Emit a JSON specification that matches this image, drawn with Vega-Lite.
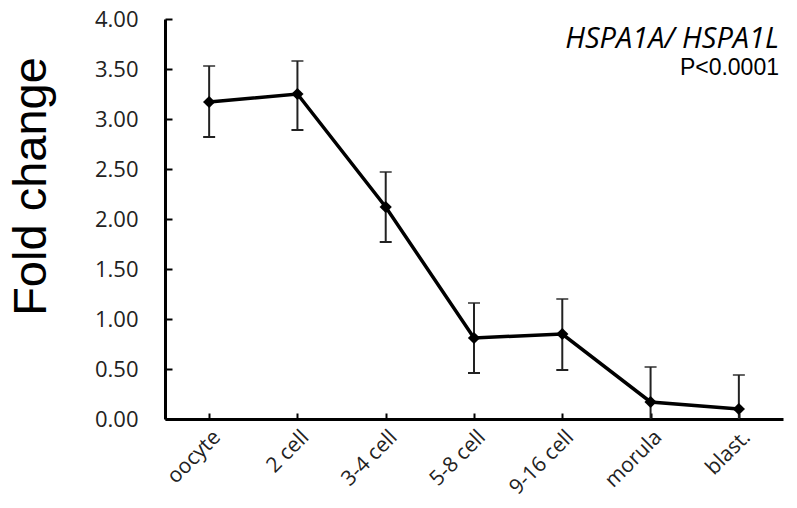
{
  "$schema": "https://vega.github.io/schema/vega-lite/v6.json",
  "autosize": {"type": "none"},
  "width": 618,
  "height": 400,
  "padding": {"left": 165, "top": 19, "right": 14, "bottom": 89},
  "background": "white",
  "title": {
    "text": "HSPA1A/ HSPA1L",
    "subtitle": "P<0.0001",
    "anchor": "end",
    "orient": "top",
    "offset": -72,
    "font": "Open Sans",
    "fontStyle": "italic",
    "fontWeight": "normal",
    "fontSize": 29,
    "color": "black",
    "subtitleFont": "Liberation Sans",
    "subtitleFontSize": 23,
    "subtitleColor": "black",
    "subtitlePadding": 3,
    "dx": -4
  },
  "data": {
    "values": [
      {"stage": "oocyte", "fold": 3.17, "lo": 2.82, "hi": 3.53},
      {"stage": "2 cell", "fold": 3.25, "lo": 2.89, "hi": 3.58},
      {"stage": "3-4 cell", "fold": 2.12, "lo": 1.77, "hi": 2.47},
      {"stage": "5-8 cell", "fold": 0.81, "lo": 0.46, "hi": 1.16},
      {"stage": "9-16 cell", "fold": 0.85, "lo": 0.49, "hi": 1.2},
      {"stage": "morula", "fold": 0.17, "lo": 0.0, "hi": 0.52},
      {"stage": "blast.", "fold": 0.1, "lo": 0.0, "hi": 0.44}
    ]
  },
  "encoding": {
    "x": {
      "field": "stage",
      "type": "nominal",
      "sort": null,
      "scale": {"type": "point", "padding": 0.5},
      "axis": {
        "title": null,
        "domainColor": "black",
        "domainWidth": 3,
        "tickColor": "black",
        "tickWidth": 2,
        "tickSize": -6,
        "labelAngle": -45,
        "labelAlign": "right",
        "labelBaseline": "top",
        "labelPadding": 13,
        "labelFont": "Open Sans",
        "labelFontSize": 21,
        "labelColor": "#222"
      }
    }
  },
  "layer": [
    {
      "mark": {"type": "rule", "color": "#222", "strokeWidth": 2},
      "encoding": {
        "y": {"field": "lo", "type": "quantitative"},
        "y2": {"field": "hi"}
      }
    },
    {
      "mark": {"type": "tick", "color": "#222", "thickness": 2, "size": 12, "orient": "horizontal"},
      "encoding": {"y": {"field": "hi", "type": "quantitative"}}
    },
    {
      "mark": {"type": "tick", "color": "#222", "thickness": 2, "size": 12, "orient": "horizontal"},
      "encoding": {"y": {"field": "lo", "type": "quantitative"}, "opacity": {"condition": {"test": "datum.lo > 0", "value": 1}, "value": 0}}
    },
    {
      "mark": {"type": "line", "color": "black", "strokeWidth": 3.5},
      "encoding": {
        "y": {
          "field": "fold",
          "type": "quantitative",
          "scale": {"domain": [0, 4]},
          "axis": {
            "title": "Fold change",
            "titleFont": "Liberation Sans",
            "titleFontSize": 47,
            "titleFontWeight": "normal",
            "titleColor": "black",
            "titleAngle": -90,
            "titleX": -134,
            "titleY": 167,
            "titleAlign": "center",
            "titleBaseline": "middle",
            "values": [0, 0.5, 1, 1.5, 2, 2.5, 3, 3.5, 4],
            "format": ".2f",
            "grid": false,
            "domainColor": "black",
            "domainWidth": 3,
            "tickColor": "black",
            "tickWidth": 2,
            "tickSize": -7,
            "labelPadding": 34,
            "labelFont": "Open Sans",
            "labelFontSize": 22,
            "labelColor": "#222"
          }
        }
      }
    },
    {
      "mark": {"type": "point", "shape": "diamond", "filled": true, "color": "black", "opacity": 1, "size": 150},
      "encoding": {"y": {"field": "fold", "type": "quantitative"}}
    }
  ],
  "config": {"view": {"stroke": null}}
}
